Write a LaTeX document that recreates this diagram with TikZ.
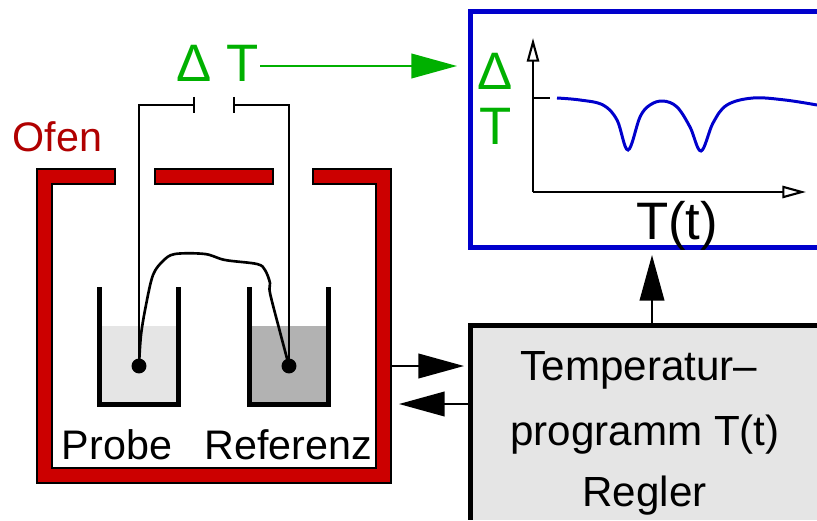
\documentclass[tikz,border=0pt]{standalone}
\usepackage{fontspec}
\setmainfont{Liberation Sans}
\usetikzlibrary{arrows.meta,positioning}
\definecolor{ofenred}{RGB}{204,0,0}
\definecolor{ofentext}{RGB}{176,0,0}
\definecolor{signalgreen}{RGB}{0,176,0}
\definecolor{plotblue}{RGB}{0,0,204}
\begin{document}
\begin{tikzpicture}
[x=0.02cm, y=-0.02cm, line width=1.2pt, line join=miter,
ofenwall/.style={draw=black, fill=ofenred, line width=1.2pt},
beaker/.style={draw=black, line width=2.6pt},
wire/.style={draw=black, line width=1.2pt},
probetip/.style={circle, fill=black, inner sep=0pt, minimum size=8.5pt},
biglabel/.style={inner sep=0pt, anchor=base, font=\fontsize{23.5}{35.7}\selectfont},
reglerlabel/.style={inner sep=0pt, anchor=base, font=\fontsize{24}{35.7}\selectfont},
hugelabel/.style={inner sep=0pt, anchor=base, font=\fontsize{30}{31.8}\selectfont},
flow/.style={-{Triangle[length=26pt,width=14pt]}, line width=1.2pt},
axis/.style={-{Triangle[open,fill=white,length=13.5pt,width=7pt]}, line width=1.2pt}]

\useasboundingbox (0,0) rectangle (817,520);

% Ofen
\draw[ofenwall] (115,169) -- (37,169) -- (37,483) -- (391,483) -- (391,169) -- (313,169)
  -- (313,184) -- (376,184) -- (376,468) -- (52,468) -- (52,184) -- (115,184) -- cycle;
\draw[ofenwall] (155,169) rectangle (273,184);
\node[biglabel, text=ofentext] (ofen) at (57.5,152) {Ofen};

% Probe und Referenz
\fill[black!10] (102,326) rectangle (176,402);
\fill[black!30] (252,326) rectangle (326,402);
\node[probetip] (probetip) at (139,366) {};
\node[probetip] (referenztip) at (289,366) {};
\coordinate (plateleft) at (194,105);
\coordinate (plateright) at (234,105);
\draw[wire] (probetip.center) |- (plateleft);
\draw[wire] (referenztip.center) |- (plateright);
\draw[wire] (194,97) -- (plateleft) -- (194,113);
\draw[wire] (234,97) -- (plateright) -- (234,113);
\draw[draw=black, line width=1.5pt] plot[smooth, tension=0.55] coordinates {(139,366) (141,335) (146,305) (153,275) (163,261) (175,254)
  (205,254) (225,260) (257,264) (265,270) (270,283) (270,293) (280,332) (289,366)};
\draw[beaker] (99.5,287) -- (99.5,404.5) -- (178.5,404.5) -- (178.5,287);
\draw[beaker] (249.5,287) -- (249.5,404.5) -- (328.5,404.5) -- (328.5,287);
\node[biglabel] (probe) at (117,459) {Probe};
\node[biglabel] (referenz) at (288.5,459) {Referenz};

% Delta T
\node[hugelabel, text=signalgreen] (deltaT) at (218,82) {Δ T};
\coordinate (deltaTend) at (457,66);
\draw[flow, draw=signalgreen, fill=signalgreen] (deltaT.east |- deltaTend) -- (deltaTend);

% Messkurve
\draw[draw=plotblue, line width=2.6pt] (817,11.5) -- (470.5,11.5) -- (470.5,247.5) -- (817,247.5);
\coordinate (origin) at (533,192);
\coordinate (yend) at (533,38);
\coordinate (xend) at (806,192);
\draw[axis] (origin) -- (yend);
\draw[axis] (origin) -- (xend);
\draw[line width=1.2pt] (533,98) -- (550,98);
\draw[draw=plotblue, line width=1.7pt] plot[smooth, tension=0.6] coordinates {(557,98) (580,100) (603,105) (617,120)
  (628,150) (640,117) (650,105) (663,101) (677,107) (690,127) (701,151) (713,123) (727,105) (753,98) (785,100) (817,105)};
\node[hugelabel, align=center, text=signalgreen] (deltaTaxis) at (495.5,145) {Δ\\T};
\node[hugelabel] (timelabel) at (677,239) {T(t)};

% Regler
\fill[black!10] (470.5,325.5) rectangle (817,520);
\draw[line width=2.6pt] (817,325.5) -- (470.5,325.5) -- (470.5,520);
\node[reglerlabel] (temperatur) at (639,380) {Temperatur–};
\node[reglerlabel] (programm) at (645,445) {programm T(t)};
\node[reglerlabel] (regler) at (644.5,506) {Regler};
\coordinate (reglertop) at (652,325.5);
\coordinate (plotbottom) at (652,255);
\coordinate (ofenout) at (391,366);
\coordinate (reglerin) at (464,366);
\coordinate (reglerout) at (470,404);
\coordinate (ofenin) at (399,404);
\draw[flow, fill=black] (reglertop) -- (plotbottom);
\draw[flow, fill=black] (ofenout) -- (reglerin);
\draw[flow, fill=black] (reglerout) -- (ofenin);
\end{tikzpicture}
\end{document}
